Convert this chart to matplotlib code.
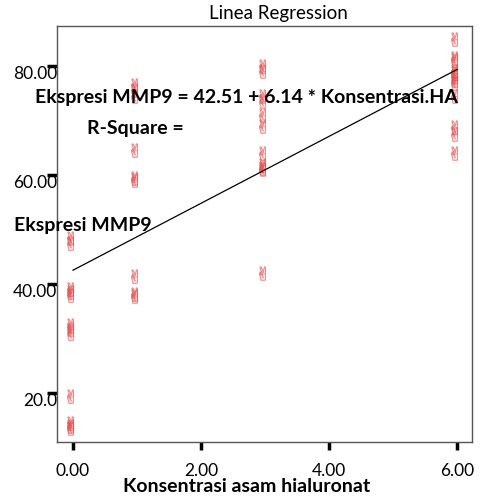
import matplotlib
matplotlib.use("Agg")
import matplotlib.pyplot as plt

# data (x = konsentrasi, y = ekspresi MMP9)
x_0 = [-0.05] * 12
y_0 = [48.5, 47.5, 39.0, 38.5, 38.0, 32.5, 31.8, 31.0, 19.5, 14.5, 13.9, 13.5]
x_1 = [0.95] * 9
y_1 = [76.5, 75.5, 74.5, 64.5, 59.4, 59.0, 41.5, 38.2, 37.8]
x_3 = [2.95] * 11
y_3 = [80.0, 79.0, 74.5, 73.5, 71.0, 69.0, 64.0, 61.8, 61.3, 61.0, 42.0]
x_6 = [5.95] * 12
y_6 = [85.0, 81.5, 79.0, 78.2, 77.4, 76.8, 74.5, 68.8, 67.5, 64.0, 81.0, 78.6]

intercept = 42.51
slope = 6.14
line_x = [0.0, 6.0]

xticks = [0, 2, 4, 6]
xtick_labels = ["0.00", "2.00", "4.00", "6.00"]
yticks = [20, 40, 60, 80]
ytick_labels = ["20.0", "40.00", "60.00", "80.00"]

plt.rcParams['font.family'] = ['Lato', 'DejaVu Sans']

fig = plt.figure(figsize=(4.8, 4.96), dpi=100)
ax = fig.add_axes([57 / 480, 54 / 496, 415 / 480, 416 / 496])

xs = x_0 + x_1 + x_3 + x_6
ys = y_0 + y_1 + y_3 + y_6
ax.plot(xs, ys, linestyle='none', marker='$\u270C$', markersize=10,
        color='#f04848', alpha=0.55, markeredgewidth=0.35)

ax.plot(line_x, [intercept + slope * v for v in line_x], color='black', linewidth=0.9)

ax.set_xlim(-0.25, 6.23)
ax.set_ylim(11, 87.3)
ax.set_xticks(xticks)
ax.set_xticklabels(xtick_labels)
ax.set_yticks(yticks)
ax.set_yticklabels(ytick_labels)
ax.tick_params(axis='x', direction='out', length=6, width=2.5, pad=9, labelsize=12.5, colors='black')
ax.tick_params(axis='y', direction='out', length=7, width=2.5, pad=-7, labelsize=12.5, colors='black')
for lbl in ax.get_yticklabels():
    lbl.set_va('top')

for s in ax.spines.values():
    s.set_color('#555555')
    s.set_linewidth(1.0)

fig.text(278 / 480, 1 - 14 / 496, 'Linea Regression', ha='center', va='center', fontsize=13.5)
fig.text(246 / 480, 1 - 98 / 496, 'Ekspresi MMP9 = 42.51 + 6.14 * Konsentrasi.HA',
         ha='center', va='center', fontsize=14, fontweight='bold')
fig.text(87 / 480, 1 - 129 / 496, 'R-Square =', ha='left', va='center', fontsize=14, fontweight='bold')
fig.text(14 / 480, 1 - 226 / 496, 'Ekspresi MMP9', ha='left', va='center', fontsize=14, fontweight='bold')
fig.text(247 / 480, 1 - 487 / 496, 'Konsentrasi asam hialuronat', ha='center', va='center',
         fontsize=14, fontweight='bold')

fig.savefig('out.png', dpi=100)
